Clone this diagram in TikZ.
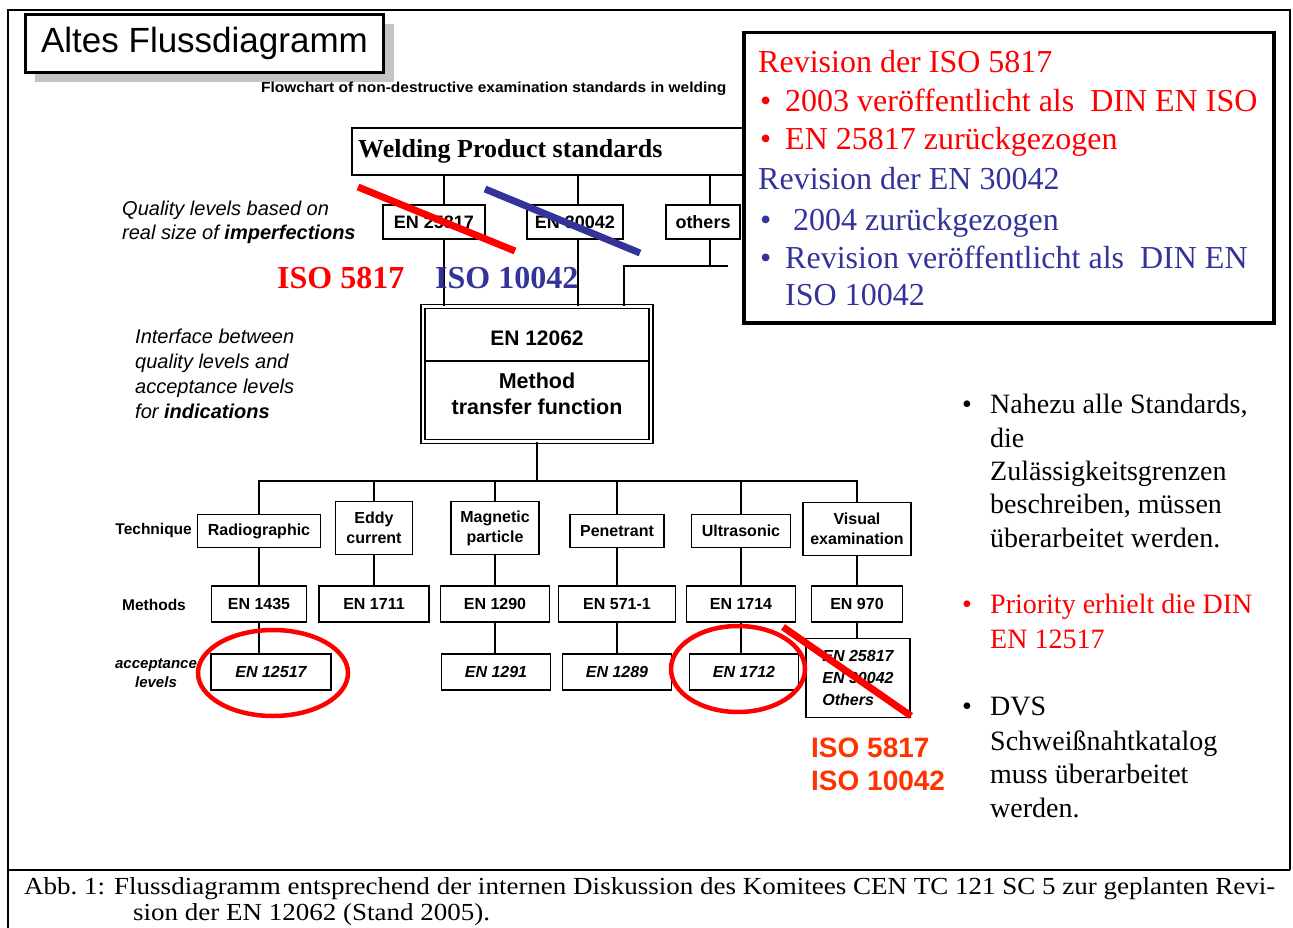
\documentclass[tikz,border=0pt]{standalone}
\usepackage{fontspec}
\setmainfont{Liberation Serif}
\setsansfont{Liberation Sans}
\usepackage{graphicx}
\newcommand{\setfs}[2]{\fontsize{#1}{#2}\selectfont}
\newsavebox\capbox
\newdimen\capwd
\definecolor{rvred}{HTML}{FF0000}
\definecolor{rvblue}{HTML}{333399}
\definecolor{isoorange}{HTML}{FF3300}
\definecolor{shadowgray}{HTML}{C4C4C4}
\tikzset{
  frameline/.style={line width=2pt},
  fbox/.style={draw, line width=1.8pt, fill=white, inner sep=0pt, align=center, font=\sffamily\bfseries\setfs{16}{20}},
  topbox/.style={fbox, font=\sffamily\bfseries\setfs{18}{21}, minimum height=34},
  accbox/.style={fbox, font=\sffamily\bfseries\itshape\setfs{16}{20}, minimum height=36},
  methbox/.style={fbox, minimum height=36},
  conn/.style={line width=1.6pt},
  strike/.style={line width=7pt},
  ring/.style={draw=rvred, line width=4.5pt},
  revtxt/.style={anchor=base west, inner sep=0pt, font=\setfs{32}{38}},
  sidetxt/.style={anchor=base west, inner sep=0pt, font=\setfs{28}{33}},
  lefttxt/.style={anchor=base west, inner sep=0pt, font=\sffamily\itshape\setfs{20}{25}},
  rowlabel/.style={inner sep=0pt, font=\sffamily\bfseries\setfs{15.5}{19}},
  captxt/.style={anchor=base west, inner sep=0pt, font=\setfs{24.5}{28}}
}
\begin{document}
\begin{tikzpicture}[x=1pt,y=-1pt]
\useasboundingbox (0,0) rectangle (1293,928);
\fill[white] (0,0) rectangle (1293,928);
% outer frame
\draw[frameline] (8,928) -- (8,10) -- (1290,10) -- (1290,870);
\draw[frameline] (8,870) -- (1290,870);

% title
\fill[shadowgray] (35,24) rectangle (394,82);
\node[draw, line width=3pt, fill=white, minimum width=358, minimum height=58, anchor=north west, inner sep=0pt, font=\sffamily\setfs{35}{40}] (title) at (24,13) {Altes Flussdiagramm};

\node[anchor=base west, inner sep=0pt, font=\sffamily\bfseries\setfs{14.5}{17}] (fctitle) at (261,93) {\resizebox{465pt}{\height}{Flowchart of non-destructive examination standards in welding}};

% welding product standards
\node[draw, line width=2pt, fill=white, minimum width=420, minimum height=47, anchor=north west, inner sep=0pt] (wps) at (351,127) {};
\node[anchor=west, inner sep=0pt, font=\bfseries\setfs{26}{30}] (wpst) at (358,151) {Welding Product standards};

\node[topbox, minimum width=102] (en25) at (434,222) {EN 25817};
\node[topbox, minimum width=96] (en30) at (575,222) {EN 30042};
\node[topbox, minimum width=74] (oth) at (703,222) {others};

\coordinate (c1) at (444,222);
\coordinate (c2) at (578,222);
\coordinate (c3) at (710,222);
\coordinate (j0) at (624,266);
\coordinate (j1) at (710,266);
\coordinate (j2) at (728,266);

% EN 12062 box
\node[draw, double, line width=1.5pt, double distance=2.5pt, fill=white, minimum width=228, minimum height=135, inner sep=0pt] (m) at (537,374) {};
\coordinate (dv) at (537,361);
\draw[line width=1.2pt] ([xshift=3pt]m.west |- dv) -- ([xshift=-3pt]m.east |- dv);
\node[inner sep=0pt, font=\sffamily\bfseries\setfs{21}{25}] (t12062) at (537,338) {EN 12062};
\node[inner sep=0pt, align=center, font=\sffamily\bfseries\setfs{21.5}{26}] (tmtf) at (537,394) {Method\\transfer function};

\draw[conn] (wps.south -| c1) -- (en25.north -| c1);
\draw[conn] (wps.south -| c2) -- (en30.north -| c2);
\draw[conn] (wps.south -| c3) -- (oth.north -| c3);
\draw[conn] (en25.south -| c1) -- (m.north -| c1);
\draw[conn] (en30.south -| c2) -- (m.north -| c2);
\draw[conn] (oth.south -| c3) -- (j1);
\draw[conn] (j2) -- (j0) -- (m.north -| j0);

% left labels
\node[lefttxt] (q1) at (122,216) {Quality levels based on};
\node[lefttxt] (q2) at (122,240) {real size of \textbf{imperfections}};
\node[lefttxt] (i1) at (135,343) {Interface between};
\node[lefttxt] (i2) at (135,368) {quality levels and};
\node[lefttxt] (i3) at (135,393) {acceptance levels};
\node[lefttxt] (i4) at (135,418) {for \textbf{indications}};

% techniques
\node[fbox, minimum width=123, minimum height=33] (rad) at (259,531) {Radiographic};
\node[fbox, minimum width=77, minimum height=53] (eddy) at (374,528) {Eddy\\current};
\node[fbox, minimum width=88, minimum height=53] (mag) at (495,528) {Magnetic\\particle};
\node[fbox, minimum width=94, minimum height=33] (pen) at (617,531) {Penetrant};
\node[fbox, minimum width=99, minimum height=33] (ult) at (741,531) {Ultrasonic};
\node[fbox, minimum width=108, minimum height=53] (vis) at (857,529) {Visual\\examination};

\coordinate (bus) at (537,481);
\draw[conn] (m.south) -- (bus);
\foreach \t in {rad,eddy,mag,pen,ult,vis} { \draw[conn] (\t.north) |- (bus); }

% methods
\node[methbox, minimum width=95] (m1435) at (259,604) {EN 1435};
\node[methbox, minimum width=110] (m1711) at (374,604) {EN 1711};
\node[methbox, minimum width=109] (m1290) at (495,604) {EN 1290};
\node[methbox, minimum width=117] (m571) at (617,604) {EN 571-1};
\node[methbox, minimum width=109] (m1714) at (741,604) {EN 1714};
\node[methbox, minimum width=91] (m970) at (857,604) {EN 970};

\draw[conn] (rad.south) -- (m1435.north);
\draw[conn] (eddy.south) -- (m1711.north);
\draw[conn] (mag.south) -- (m1290.north);
\draw[conn] (pen.south) -- (m571.north);
\draw[conn] (ult.south) -- (m1714.north);
\draw[conn] (vis.south) -- (m970.north);

% acceptance levels
\node[accbox, minimum width=120] (a12517) at (271,672) {EN 12517};
\node[accbox, minimum width=109] (a1291) at (496,672) {EN 1291};
\node[accbox, minimum width=109] (a1289) at (617,672) {EN 1289};
\node[accbox, minimum width=109] (a1712) at (744,672) {EN 1712};
\node[fbox, font=\sffamily\bfseries\itshape\setfs{16}{22}, align=left, minimum width=104, minimum height=79] (a25817) at (858,678) {EN 25817\\EN 30042\\Others};

\draw[conn] (m1435.south) -- (m1435.south |- a12517.north);
\draw[conn] (m1290.south) -- (m1290.south |- a1291.north);
\draw[conn] (m571.south) -- (m571.south |- a1289.north);
\draw[conn] (m1714.south) -- (m1714.south |- a1712.north);
\draw[conn] (m970.south) -- (m970.south |- a25817.north);

% row labels
\node[rowlabel, anchor=east] (ltech) at (192,530) {Technique};
\node[rowlabel] (lmeth) at (154,605) {Methods};
\node[rowlabel, align=center, font=\sffamily\bfseries\itshape\setfs{15}{19}] (lacc) at (156,673) {acceptance\\levels};

% strike-throughs and marks
\draw[strike, rvred] (358,187) -- (515,251);
\draw[strike, rvblue] (485,189) -- (640,253);
\node[anchor=base west, inner sep=0pt, font=\bfseries\setfs{32}{36}, text=rvred] (iso5817) at (277,288) {ISO 5817};
\node[anchor=base west, inner sep=0pt, font=\bfseries\setfs{32}{36}, text=rvblue] (iso10042) at (435,288) {ISO 10042};

\draw[ring] (273,673) ellipse [x radius=75, y radius=43];
\draw[ring] (738,669) ellipse [x radius=67, y radius=43];
\draw[strike, rvred] (783,627) -- (911,716);

\node[anchor=base west, inner sep=0pt, font=\sffamily\bfseries\setfs{28}{33}, text=isoorange] (o1) at (811,757) {ISO 5817};
\node[anchor=base west, inner sep=0pt, font=\sffamily\bfseries\setfs{28}{33}, text=isoorange] (o2) at (811,790) {ISO 10042};

% revision box
\node[draw, line width=3.5pt, fill=white, minimum width=530, minimum height=290, anchor=north west, inner sep=0pt] (rev) at (742,31) {};
\begin{scope}[every node/.append style={revtxt}]
\node[text=rvred] (r1) at (758,73) {Revision der ISO 5817};
\node[text=rvred] (r2b) at (760,112) {•};
\node[text=rvred] (r2) at (785,112) {2003 veröffentlicht als\ \ DIN EN ISO};
\node[text=rvred] (r3b) at (760,150) {•};
\node[text=rvred] (r3) at (785,150) {EN 25817 zurückgezogen};
\node[text=rvblue] (r4) at (758,190) {Revision der EN 30042};
\node[text=rvblue] (r5b) at (760,230) {•};
\node[text=rvblue] (r5) at (793,230) {2004 zurückgezogen};
\node[text=rvblue] (r6b) at (760,268) {•};
\node[text=rvblue] (r6) at (785,268) {Revision veröffentlicht als\ \ DIN EN};
\node[text=rvblue] (r7) at (785,305) {ISO 10042};
\end{scope}

% side notes
\begin{scope}[every node/.append style={sidetxt}]
\node (s1b) at (962,413) {•};
\node (s1) at (990,413) {Nahezu alle Standards,};
\node (s2) at (990,447) {die};
\node (s3) at (990,480) {Zulässigkeitsgrenzen};
\node (s4) at (990,513) {beschreiben, müssen};
\node (s5) at (990,547) {überarbeitet werden.};
\node[text=rvred] (p1b) at (962,613) {•};
\node[text=rvred] (p1) at (990,613) {Priority erhielt die DIN};
\node[text=rvred] (p2) at (990,648) {EN 12517};
\node (d1b) at (962,715) {•};
\node (d1) at (990,715) {DVS};
\node (d2) at (990,750) {Schweißnahtkatalog};
\node (d3) at (990,783) {muss überarbeitet};
\node (d4) at (990,817) {werden.};
\end{scope}

% caption
\node[captxt] (cap1) at (24,894) {\sbox\capbox{Abb.\ 1: Flussdiagramm entsprechend der internen Diskussion des Komitees CEN TC 121 SC 5 zur geplanten Revi-}\global\capwd=\wd\capbox\resizebox{1251pt}{\height}{\usebox\capbox}};
\node[captxt] (cap2) at (133,920) {\pgfmathsetmacro\capscale{1251/\capwd}\scalebox{\capscale}[1]{sion der EN 12062 (Stand 2005).}};
\end{tikzpicture}
\end{document}
